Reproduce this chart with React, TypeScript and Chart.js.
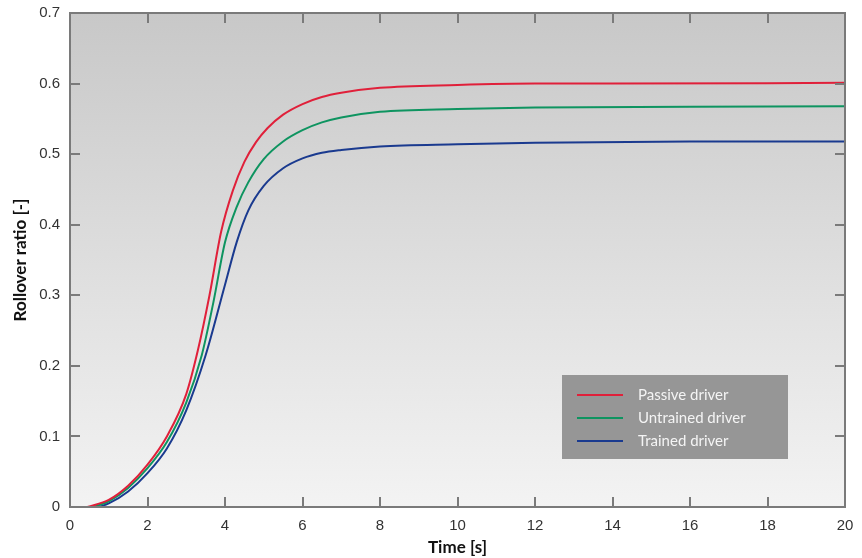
import React, { useEffect, useRef } from "react";
import { Chart, registerables } from "chart.js";

Chart.register(...registerables);

const seriesLabels = ["Passive driver", "Untrained driver", "Trained driver"];
const seriesColors = ["#e0203a", "#0e9460", "#1a3a8f"];

const passiveT = [0.45, 1, 1.5, 2, 2.5, 3, 3.3, 3.6, 3.9, 4.2, 4.5, 4.8, 5.1, 5.5, 6, 6.5, 7, 8, 10, 12, 14, 20];
const passiveY = [0, 0.01, 0.03, 0.06, 0.1, 0.16, 0.222, 0.3, 0.39, 0.448, 0.489, 0.517, 0.537, 0.556, 0.571, 0.581, 0.587, 0.594, 0.598, 0.6, 0.6, 0.601];

const untrainedT = [0.6, 1, 1.5, 2, 2.5, 3, 3.4, 3.7, 4, 4.3, 4.6, 5, 5.5, 6, 6.5, 7, 8, 10, 12, 16, 20];
const untrainedY = [0, 0.008, 0.027, 0.055, 0.092, 0.148, 0.215, 0.29, 0.375, 0.425, 0.46, 0.493, 0.518, 0.534, 0.545, 0.552, 0.56, 0.564, 0.566, 0.567, 0.568];

const trainedT = [0.75, 1, 1.5, 2, 2.5, 3, 3.5, 4, 4.3, 4.6, 5, 5.5, 6, 6.5, 7, 8, 10, 12, 16, 20];
const trainedY = [0, 0.005, 0.022, 0.048, 0.083, 0.137, 0.215, 0.315, 0.375, 0.42, 0.455, 0.48, 0.494, 0.502, 0.506, 0.511, 0.514, 0.516, 0.518, 0.518];

const xTicks = [0, 2, 4, 6, 8, 10, 12, 14, 16, 18, 20];
const yTicks = [0, 0.1, 0.2, 0.3, 0.4, 0.5, 0.6, 0.7];

const toPoints = (t: number[], y: number[]) => t.map((v, i) => ({ x: v, y: y[i] }));

const framePlugin = {
  id: "frame",
  beforeDatasetsDraw(chart: any) {
    const { ctx, chartArea: a } = chart;
    const g = ctx.createLinearGradient(0, a.top, 0, a.bottom);
    g.addColorStop(0, "#c8c8c8");
    g.addColorStop(1, "#f3f3f3");
    ctx.save();
    ctx.fillStyle = g;
    ctx.fillRect(a.left, a.top, a.right - a.left, a.bottom - a.top);
    ctx.restore();
  },
  afterDatasetsDraw(chart: any) {
    const { ctx, chartArea: a, scales } = chart;
    ctx.save();
    ctx.strokeStyle = "#7a7a7a";
    ctx.lineWidth = 2;
    const tl = 10;
    ctx.beginPath();
    xTicks.forEach((v) => {
      if (v === xTicks[0] || v === xTicks[xTicks.length - 1]) return;
      const px = Math.round(scales.x.getPixelForValue(v));
      ctx.moveTo(px, a.bottom);
      ctx.lineTo(px, a.bottom - tl);
      ctx.moveTo(px, a.top);
      ctx.lineTo(px, a.top + tl);
    });
    yTicks.forEach((v) => {
      if (v === yTicks[0] || v === yTicks[yTicks.length - 1]) return;
      const py = Math.round(scales.y.getPixelForValue(v));
      ctx.moveTo(a.left, py);
      ctx.lineTo(a.left + tl, py);
      ctx.moveTo(a.right, py);
      ctx.lineTo(a.right - tl, py);
    });
    ctx.stroke();
    ctx.strokeRect(a.left, a.top, a.right - a.left, a.bottom - a.top);

    // legend
    const bx = 562, by = 375, bw = 226, bh = 84;
    ctx.fillStyle = "#969696";
    ctx.fillRect(bx, by, bw, bh);
    chart.data.datasets.forEach((ds: any, i: number) => {
      const yy = by + 20 + i * 23;
      ctx.strokeStyle = ds.borderColor;
      ctx.lineWidth = 2;
      ctx.beginPath();
      ctx.moveTo(bx + 15, yy);
      ctx.lineTo(bx + 61, yy);
      ctx.stroke();
      ctx.fillStyle = "#f4f4f4";
      ctx.font = "15px Lato";
      ctx.textBaseline = "middle";
      ctx.textAlign = "left";
      ctx.fillText(ds.label, bx + 76, yy);
    });
    ctx.restore();
  },
};

export default function App() {
  const ref = useRef<HTMLCanvasElement>(null);
  useEffect(() => {
    document.body.style.margin = "0";
    const datasets = [
      toPoints(passiveT, passiveY),
      toPoints(untrainedT, untrainedY),
      toPoints(trainedT, trainedY),
    ].map((d, i) => ({
      label: seriesLabels[i],
      data: d,
      borderColor: seriesColors[i],
      borderWidth: 2,
      pointRadius: 0,
      fill: false,
      cubicInterpolationMode: "monotone" as const,
    }));
    const chart = new Chart(ref.current!, {
      type: "line",
      data: { datasets },
      plugins: [framePlugin],
      options: {
        animation: false,
        responsive: false,
        layout: { padding: { top: 13, right: 17, left: 0, bottom: 0 } },
        plugins: { legend: { display: false }, tooltip: { enabled: false } },
        scales: {
          x: {
            type: "linear",
            min: 0,
            max: 20,
            afterBuildTicks: (s: any) => {
              s.ticks = xTicks.map((v) => ({ value: v }));
            },
            afterFit: (s: any) => {
              s.height = 51;
              s.paddingLeft = 0;
              s.paddingRight = 0;
            },
            grid: { display: false, drawTicks: false },
            border: { display: false },
            ticks: {
              color: "#333",
              font: { family: "Liberation Sans", size: 15 },
              padding: 10,
            },
            title: {
              display: true,
              text: "Time [s]",
              color: "#111",
              font: { family: "Lato", size: 17, weight: "bold" },
              padding: { top: 0, bottom: 0 },
            },
          },
          y: {
            type: "linear",
            min: 0,
            max: 0.7,
            afterBuildTicks: (s: any) => {
              s.ticks = yTicks.map((v) => ({ value: v }));
            },
            afterFit: (s: any) => {
              s.width = 70;
              s.paddingTop = 0;
              s.paddingBottom = 0;
            },
            grid: { display: false, drawTicks: false },
            border: { display: false },
            ticks: {
              color: "#333",
              font: { family: "Liberation Sans", size: 15 },
              padding: 10,
              callback: (v: any) => String(v),
            },
            title: {
              display: true,
              text: "Rollover ratio [-]",
              color: "#111",
              font: { family: "Lato", size: 17, weight: "bold" },
              padding: { top: 10, bottom: 0 },
            },
          },
        },
      },
    });
    return () => chart.destroy();
  }, []);
  return <canvas ref={ref} width={862} height={558} style={{ display: "block" }} />;
}
